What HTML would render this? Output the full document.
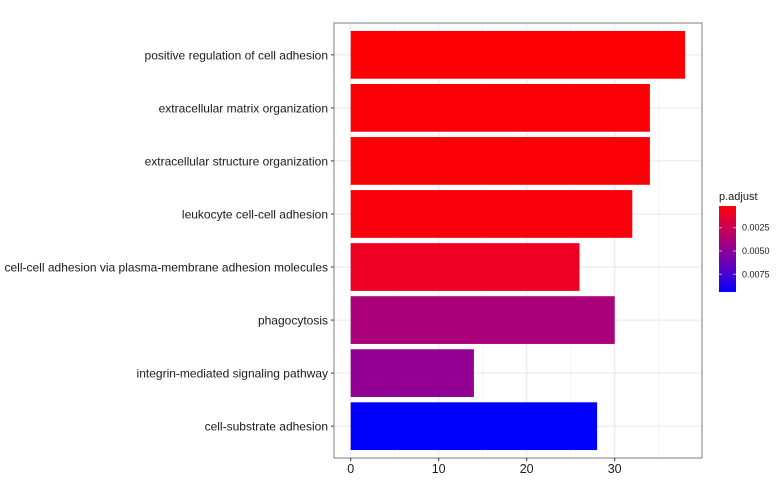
<!DOCTYPE html>
<html><head><meta charset="utf-8"><style>
body{margin:0;background:#fff;font-family:"Liberation Sans",Arial,sans-serif}
svg text{font-family:"Liberation Sans",Arial,sans-serif}
</style></head><body>
<svg id="c" width="780" height="480" xmlns="http://www.w3.org/2000/svg">
<defs><linearGradient id="g" x1="0" y1="0" x2="0" y2="1"></linearGradient></defs>
</svg>
<script>
const categories=["positive regulation of cell adhesion","extracellular matrix organization","extracellular structure organization","leukocyte cell-cell adhesion","cell-cell adhesion via plasma-membrane adhesion molecules","phagocytosis","integrin-mediated signaling pathway","cell-substrate adhesion"];
const counts=[38,34,34,32,26,30,14,28];
const padj=[0.0002,0.0003,0.0003,0.0004,0.00094,0.00383,0.00479,0.0094];
const xTicks=[0,10,20,30];
const legendTicks=[0.0025,0.0050,0.0075];
const svg=document.getElementById('c');const NS='http://www.w3.org/2000/svg';
function mk(t,a,p){const e=document.createElementNS(NS,t);for(const k in a)e.setAttribute(k,a[k]);(p||svg).appendChild(e);return e;}
const L=334,R=702,T=23,B=458;
const x0=350.7,pxPer=8.8;
const X=v=>x0+v*pxPer;
const step=(B-T)/8.2;
const Y=i=>T+(0.6+i)*step;
const pMin=0.00017,pMax=0.0094;
function colF(f){f=Math.max(0,Math.min(1,f));return `rgb(${Math.round(255*Math.pow(1-f,0.8))},0,${Math.round(255*Math.pow(f,0.8))})`;}
function col(p){return colF((p-pMin)/(pMax-pMin));}
const grad=document.getElementById('g');
for(let k=0;k<=10;k++){mk('stop',{offset:k/10,'stop-color':colF(k/10)},grad);}
const bg=mk('rect',{x:L,y:T,width:R-L,height:B-T,fill:'#fff'});


for(let v=5;v<=35;v+=10){const l=mk('line',{x1:X(v),x2:X(v),y1:T,y2:B,stroke:'#f0f0f0','stroke-width':0.6});}
xTicks.forEach(v=>{const l=mk('line',{x1:X(v),x2:X(v),y1:T,y2:B,stroke:'#e6e6e6','stroke-width':1});});
categories.forEach((c,i)=>{const l=mk('line',{x1:L,x2:R,y1:Y(i),y2:Y(i),stroke:'#e6e6e6','stroke-width':1});});
categories.forEach((c,i)=>{const h=step*0.9;
const r=mk('rect',{x:X(0),y:Y(i)-h/2,width:X(counts[i])-X(0),height:h,fill:col(padj[i])});


const t=mk('text',{x:L-6,y:Y(i)+4.5,'text-anchor':'end','font-size':12,fill:'#1a1a1a'});t.textContent=c;


mk('line',{x1:L-3,x2:L,y1:Y(i),y2:Y(i),stroke:'#333'});});
const fr=mk('rect',{x:L,y:T,width:R-L,height:B-T,fill:'none',stroke:'#7f7f7f','stroke-width':1});


xTicks.forEach(v=>{mk('line',{x1:X(v),x2:X(v),y1:B,y2:B+3,stroke:'#333'});
const t=mk('text',{x:X(v),y:B+15,'text-anchor':'middle','font-size':12.5,fill:'#1a1a1a'});t.textContent=v;

});
const lt=mk('text',{x:719,y:200,'font-size':11,fill:'#1a1a1a'});lt.textContent='p.adjust';


const lgTop=206,lgBot=292;
const lb=mk('rect',{x:719,y:lgTop,width:17,height:lgBot-lgTop,fill:'url(#g)'});


const LY=p=>lgTop+(p-pMin)/(pMax-pMin)*(lgBot-lgTop);
legendTicks.forEach(p=>{mk('line',{x1:719,x2:722,y1:LY(p),y2:LY(p),stroke:'#fff','stroke-opacity':0.6});mk('line',{x1:733,x2:736,y1:LY(p),y2:LY(p),stroke:'#fff','stroke-opacity':0.6});
const t=mk('text',{x:742,y:LY(p)+3,'font-size':9,fill:'#1a1a1a'});t.textContent=p.toFixed(4);

});
</script>
</body></html>
